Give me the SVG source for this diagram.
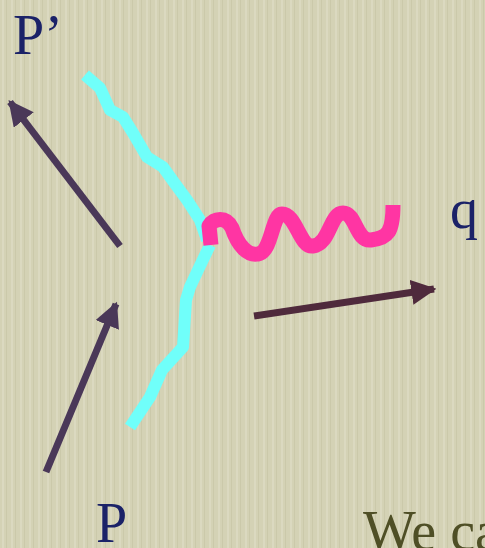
<svg xmlns="http://www.w3.org/2000/svg" width="485" height="548" viewBox="0 0 485 548">
<defs>
<pattern id="tex" width="9" height="548" patternUnits="userSpaceOnUse">
<rect width="9" height="548" fill="#d4d2b5"/>
<rect x="2" width="2" height="548" fill="#dbd9c0"/>
<rect x="6" width="1" height="548" fill="#cbc9aa"/>
</pattern>
<marker id="ah" viewBox="0 0 10 10" refX="9" refY="5" markerWidth="3.6" markerHeight="3.6" markerUnits="strokeWidth" orient="auto">
<path d="M0,0 L10,5 L0,10 Z" fill="context-stroke"/>
</marker>
<style>
.lbl{font-family:"Liberation Serif","Times New Roman",serif;font-size:56px;fill:#1b2268}
.arr{fill:none;stroke-width:7}
.fermion{fill:none;stroke:#70fffa;stroke-width:12;stroke-linejoin:round}
.photon{fill:none;stroke:#ff35a3;stroke-width:15;stroke-linejoin:round}
</style>
</defs>
<rect width="485" height="548" fill="url(#tex)"/>
<g id="fermion-out">
<path class="fermion" d="M85,75 L100,88 L110,110 L123,117 L133,133 L147,157 L163,167 L173,181 L187,200 L200,220 L207,240"/>
</g>
<g id="fermion-in">
<path class="fermion" d="M210,245 L198,270 L190,287 L186,300 L183,347 L162,370 L150,397 L130,427"/>
</g>
<g id="photon">
<path class="photon" d="M211,245 L209,226 C214,218 226,216 232,228 C238,246 248,256 258,254 C272,252 272,214 282,214 C296,214 300,248 313,246 C330,244 330,213 343,213 C356,213 356,242 371,240 C388,238 393,232 393,205"/>
</g>
<g id="arrows">
<line class="arr" x1="120" y1="246" x2="10" y2="102" stroke="#4a3858" marker-end="url(#ah)"/>
<line class="arr" x1="46" y1="472" x2="116" y2="304" stroke="#4a3858" marker-end="url(#ah)"/>
<line class="arr" x1="254" y1="316" x2="434" y2="289" stroke="#4f2a3c" marker-end="url(#ah)"/>
</g>
<g id="labels">
<text class="lbl" x="13" y="54">P’</text>
<text class="lbl" x="450" y="228">q</text>
<text class="lbl" x="96" y="542">P</text>
<text class="lbl" x="363" y="550" style="fill:#4f4f26">We ca</text>
</g>
</svg>
